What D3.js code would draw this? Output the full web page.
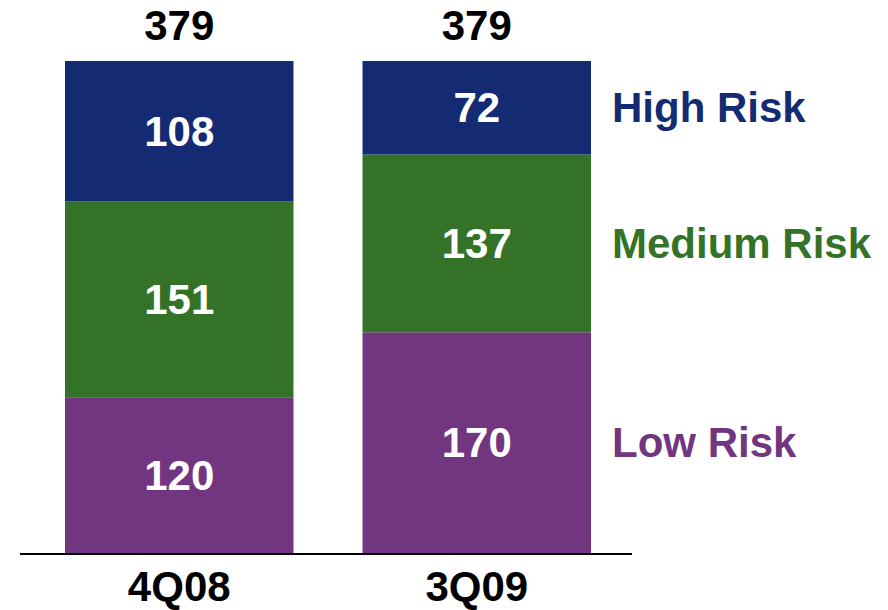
<!DOCTYPE html>
<html>
<head>
<meta charset="utf-8">
<script src="https://cdn.jsdelivr.net/npm/d3@7"></script>
<style>
  html, body { margin: 0; padding: 0; background: #fff; }
  svg { display: block; }
  text { font-family: "Liberation Sans", Arial, sans-serif; font-weight: bold; }
</style>
</head>
<body>
<script>
// Quarters and risk-tier exposure counts
const quarters = ["4Q08", "3Q09"];
const tiers = ["Low Risk", "Medium Risk", "High Risk"];
const lowRisk = [120, 170];
const mediumRisk = [151, 137];
const highRisk = [108, 72];
const totals = [379, 379];
const tierColors = ["#72357f", "#347327", "#142a73"];

const W = 888, H = 610;
const FS = 42;
const svg = d3.select("body").append("svg").attr("width", W).attr("height", H);

const rows = quarters.map((q, i) => ({
  quarter: q,
  "Low Risk": lowRisk[i],
  "Medium Risk": mediumRisk[i],
  "High Risk": highRisk[i]
}));
const series = d3.stack().keys(tiers)(rows);

const x = d3.scaleBand().domain(quarters).range([65, 591]).paddingInner(0.232).paddingOuter(0);
const y = d3.scaleLinear().domain([0, d3.max(totals)]).range([553, 61]);
const color = d3.scaleOrdinal().domain(tiers).range(tierColors);

// Stacked segments
const groups = svg.selectAll("g.tier").data(series).join("g").attr("class", "tier")
  .attr("fill", d => color(d.key));
groups.selectAll("rect").data(d => d).join("rect")
  .attr("x", d => x(d.data.quarter))
  .attr("width", x.bandwidth())
  .attr("y", d => y(d[1]))
  .attr("height", d => y(d[0]) - y(d[1]));

// Segment value labels
groups.selectAll("text").data(d => d).join("text")
  .attr("x", d => x(d.data.quarter) + x.bandwidth() / 2)
  .attr("y", d => (y(d[0]) + y(d[1])) / 2)
  .attr("dy", "0.35em")
  .attr("text-anchor", "middle")
  .attr("fill", "#fff")
  .attr("font-size", FS)
  .text(d => d[1] - d[0]);

// Totals above bars
svg.selectAll("text.total").data(quarters).join("text").attr("class", "total")
  .attr("x", q => x(q) + x.bandwidth() / 2)
  .attr("y", 40)
  .attr("text-anchor", "middle")
  .attr("font-size", FS)
  .attr("fill", "#000")
  .text((q, i) => totals[i]);

// Baseline
svg.append("line")
  .attr("x1", 20).attr("x2", 632)
  .attr("y1", y(0) + 1).attr("y2", y(0) + 1)
  .attr("stroke", "#000").attr("stroke-width", 2);

// Category axis labels
const axis = d3.axisBottom(x).tickSize(0).tickPadding(0);
const ax = svg.append("g").attr("transform", `translate(0,${y(0) + 48})`).call(axis);
ax.select(".domain").remove();
ax.selectAll("text")
  .attr("font-size", FS)
  .attr("fill", "#000")
  .attr("dy", "0")
  .style("font-family", "'Liberation Sans', Arial, sans-serif")
  .style("font-weight", "bold");

// Tier legend beside the last bar
const last = series.map(s => s[s.length - 1]);
svg.selectAll("text.legend").data(series).join("text").attr("class", "legend")
  .attr("x", 612)
  .attr("y", (s, i) => (y(last[i][0]) + y(last[i][1])) / 2)
  .attr("dy", "0.35em")
  .attr("font-size", FS)
  .attr("fill", s => color(s.key))
  .text(s => s.key);
</script>
</body>
</html>
